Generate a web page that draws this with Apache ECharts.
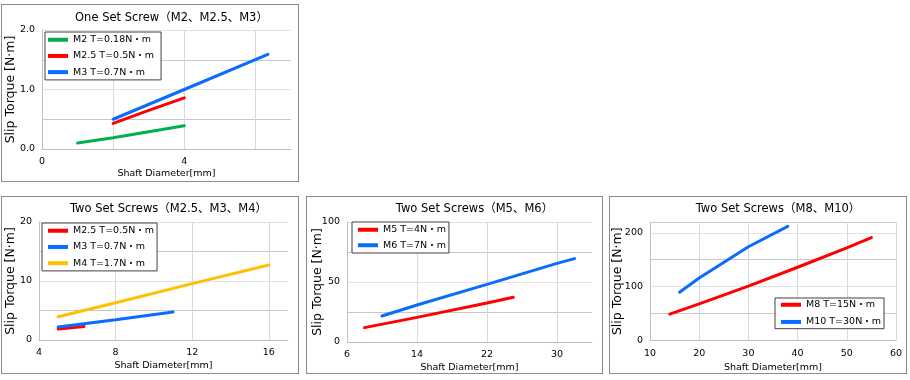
<!DOCTYPE html>
<html><head><meta charset="utf-8">
<script src="https://cdn.jsdelivr.net/npm/echarts@6/dist/echarts.min.js"></script>
<style>
html,body{margin:0;padding:0;background:#fff;width:910px;height:380px;overflow:hidden;}
.panel{position:absolute;box-sizing:border-box;border:1px solid #8c8c8c;height:178px;background:#fff;}
.chart{position:absolute;left:0;top:0;right:0;bottom:0;}
</style></head><body>
<div class="panel" style="left:1px;top:4px;width:298px"><div id="c1" class="chart"></div></div>
<div class="panel" style="left:1px;top:196px;width:298px"><div id="c2" class="chart"></div></div>
<div class="panel" style="left:306px;top:196px;width:297px"><div id="c3" class="chart"></div></div>
<div class="panel" style="left:609px;top:196px;width:298px"><div id="c4" class="chart"></div></div>
<script>
// ---------- data ----------
const xAxisTitle = 'Shaft Diameter[mm]';
const yAxisTitle = 'Slip Torque [N·m]';

// Panel 1
const p1Title = 'One Set Screw（M2、M2.5、M3）';
const p1Names = ['M2 T=0.18N・m', 'M2.5 T=0.5N・m', 'M3 T=0.7N・m'];
const p1M2X = [1, 2, 3, 4];
const p1M2Y = [0.10, 0.19, 0.29, 0.39];
const p1M25X = [2, 3, 4];
const p1M25Y = [0.43, 0.65, 0.86];
const p1M3X = [2, 4, 6.35];
const p1M3Y = [0.50, 1.00, 1.59];
const p1XLabels = [0, 4];
const p1YLabels = [0, 1, 2];

// Panel 2
const p2Title = 'Two Set Screws（M2.5、M3、M4）';
const p2Names = ['M2.5 T=0.5N・m', 'M3 T=0.7N・m', 'M4 T=1.7N・m'];
const p2M25X = [5, 6.35];
const p2M25Y = [1.85, 2.3];
const p2M3X = [5, 8, 11];
const p2M3Y = [2.2, 3.45, 4.75];
const p2M4X = [5, 8, 12, 16];
const p2M4Y = [3.95, 6.3, 9.55, 12.7];
const p2XLabels = [4, 8, 12, 16];
const p2YLabels = [0, 10, 20];

// Panel 3
const p3Title = 'Two Set Screws（M5、M6）';
const p3Names = ['M5 T=4N・m', 'M6 T=7N・m'];
const p3M5X = [8, 14, 22, 25];
const p3M5Y = [12, 20.5, 32.5, 37.3];
const p3M6X = [10, 14, 22, 30, 32];
const p3M6Y = [21.7, 30.8, 48, 65.5, 69.5];
const p3XLabels = [6, 14, 22, 30];
const p3YLabels = [0, 50, 100];

// Panel 4
const p4Title = 'Two Set Screws（M8、M10）';
const p4Names = ['M8 T=15N・m', 'M10 T=30N・m'];
const p4M8X = [14, 20, 30, 40, 50, 55];
const p4M8Y = [49, 68, 101, 136, 172, 191];
const p4M10X = [16, 20, 30, 38];
const p4M10Y = [89.6, 116, 174, 212];
const p4XLabels = [10, 20, 30, 40, 50, 60];
const p4YLabels = [0, 100, 200];

// ---------- styling ----------
const GREEN = '#00b050', RED = '#ff0000', BLUE = '#0a6cff', YELLOW = '#ffc000';
const FONT = '"DejaVu Sans", "Noto Sans CJK JP", sans-serif';

function pairs(xs, ys) { return xs.map((x, i) => [x, ys[i]]); }
function labelFmt(list, dec) {
  return function (v) {
    return list.some(t => Math.abs(t - v) < 1e-9) ? (dec ? v.toFixed(dec) : String(v)) : '';
  };
}

function build(cfg) {
  return {
    animation: false,
    textStyle: { fontFamily: FONT },
    title: {
      text: cfg.title, left: cfg.titleX, top: cfg.titleY, textAlign: 'center',
      textStyle: { fontFamily: FONT, fontSize: 11.5, fontWeight: 'normal', color: '#000' }
    },
    grid: { left: cfg.grid[0], top: cfg.grid[1], right: cfg.grid[2], bottom: cfg.grid[3],
            containLabel: false, outerBoundsMode: 'none' },
    legend: {
      orient: 'vertical', left: cfg.legend.left, top: cfg.legend.top,
      padding: cfg.legend.padding, itemGap: cfg.legend.gap,
      itemWidth: 20, itemHeight: 4, icon: 'rect',
      borderColor: '#404040', borderWidth: 1, backgroundColor: '#fff',
      textStyle: { fontFamily: FONT, fontSize: 9.5, color: '#000' },
      data: cfg.series.map(s => s.name)
    },
    xAxis: {
      type: 'value', min: cfg.x.min, max: cfg.x.max, interval: cfg.x.interval,
      name: xAxisTitle, nameLocation: 'middle', nameGap: cfg.x.nameGap, nameMoveOverlap: false,
      nameTextStyle: { fontFamily: FONT, fontSize: 9.5, color: '#000' },
      axisLine: { show: true, lineStyle: { color: '#bfbfbf', width: 1 } },
      axisTick: { show: false },
      axisLabel: { formatter: labelFmt(cfg.x.labels, 0), fontFamily: FONT, fontSize: 9.5, color: '#000', margin: 8 },
      splitLine: { show: true, showMaxLine: cfg.x.maxLine, lineStyle: { color: '#d9d9d9', width: 1 } }
    },
    yAxis: {
      type: 'value', min: cfg.y.min, max: cfg.y.max, interval: cfg.y.interval,
      name: yAxisTitle, nameLocation: 'middle', nameGap: cfg.y.nameGap, nameMoveOverlap: false,
      nameTextStyle: { fontFamily: FONT, fontSize: 12.5, color: '#000' },
      axisLine: { show: true, lineStyle: { color: '#bfbfbf', width: 1 } },
      axisTick: { show: false },
      axisLabel: { formatter: labelFmt(cfg.y.labels, cfg.y.dec), fontFamily: FONT, fontSize: 9.5, color: '#000', margin: 7 },
      splitLine: { show: true, lineStyle: { color: ['#e2e2e2', '#c8c8c8'], width: 1 } }
    },
    series: cfg.series.map(s => ({
      type: 'line', name: s.name, data: pairs(s.x, s.y), color: s.color,
      showSymbol: false, symbol: 'none', smooth: false,
      lineStyle: { color: s.color, width: 3, cap: 'round' }
    }))
  };
}

const cfgs = [
  { id: 'c1', title: p1Title, titleX: 164.5, titleY: 2.5, grid: [40, 25, 7, 32],
    legend: { left: 43, top: 27, padding: [3, 7, 3, 3], gap: 6.7 },
    x: { min: 0, max: 7, interval: 2, labels: p1XLabels, nameGap: 20, maxLine: false },
    y: { min: 0, max: 2, interval: 0.5, labels: p1YLabels, dec: 1, nameGap: 25 },
    series: [
      { name: p1Names[0], x: p1M2X, y: p1M2Y, color: GREEN },
      { name: p1Names[1], x: p1M25X, y: p1M25Y, color: RED },
      { name: p1Names[2], x: p1M3X, y: p1M3Y, color: BLUE }
    ] },
  { id: 'c2', title: p2Title, titleX: 161.5, titleY: 1, grid: [37, 25, 10, 33],
    legend: { left: 40, top: 26, padding: [3, 3, 3, 6], gap: 6.7 },
    x: { min: 4, max: 17, interval: 4, labels: p2XLabels, nameGap: 21, maxLine: false },
    y: { min: 0, max: 20, interval: 5, labels: p2YLabels, dec: 0, nameGap: 22 },
    series: [
      { name: p2Names[0], x: p2M25X, y: p2M25Y, color: RED },
      { name: p2Names[1], x: p2M3X, y: p2M3Y, color: BLUE },
      { name: p2Names[2], x: p2M4X, y: p2M4Y, color: YELLOW }
    ] },
  { id: 'c3', title: p3Title, titleX: 162.5, titleY: 1, grid: [40, 25, 10, 31],
    legend: { left: 45, top: 25, padding: [3, 3, 3, 6], gap: 6 },
    x: { min: 6, max: 34, interval: 8, labels: p3XLabels, nameGap: 21, maxLine: false },
    y: { min: 0, max: 100, interval: 25, labels: p3YLabels, dec: 0, nameGap: 23 },
    series: [
      { name: p3Names[0], x: p3M5X, y: p3M5Y, color: RED },
      { name: p3Names[1], x: p3M6X, y: p3M6Y, color: BLUE }
    ] },
  { id: 'c4', title: p4Title, titleX: 163, titleY: 1, grid: [40, 25, 10, 32.5],
    legend: { left: 165, top: 101, padding: [2, 3, 2, 6], gap: 7.7 },
    x: { min: 10, max: 60, interval: 10, labels: p4XLabels, nameGap: 22, maxLine: true },
    y: { min: 0, max: 220, interval: 50, labels: p4YLabels, dec: 0, nameGap: 26 },
    series: [
      { name: p4Names[0], x: p4M8X, y: p4M8Y, color: RED },
      { name: p4Names[1], x: p4M10X, y: p4M10Y, color: BLUE }
    ] }
];

cfgs.forEach(c => {
  const chart = echarts.init(document.getElementById(c.id), null, { renderer: 'canvas' });
  chart.setOption(build(c));
});
</script>
</body></html>
